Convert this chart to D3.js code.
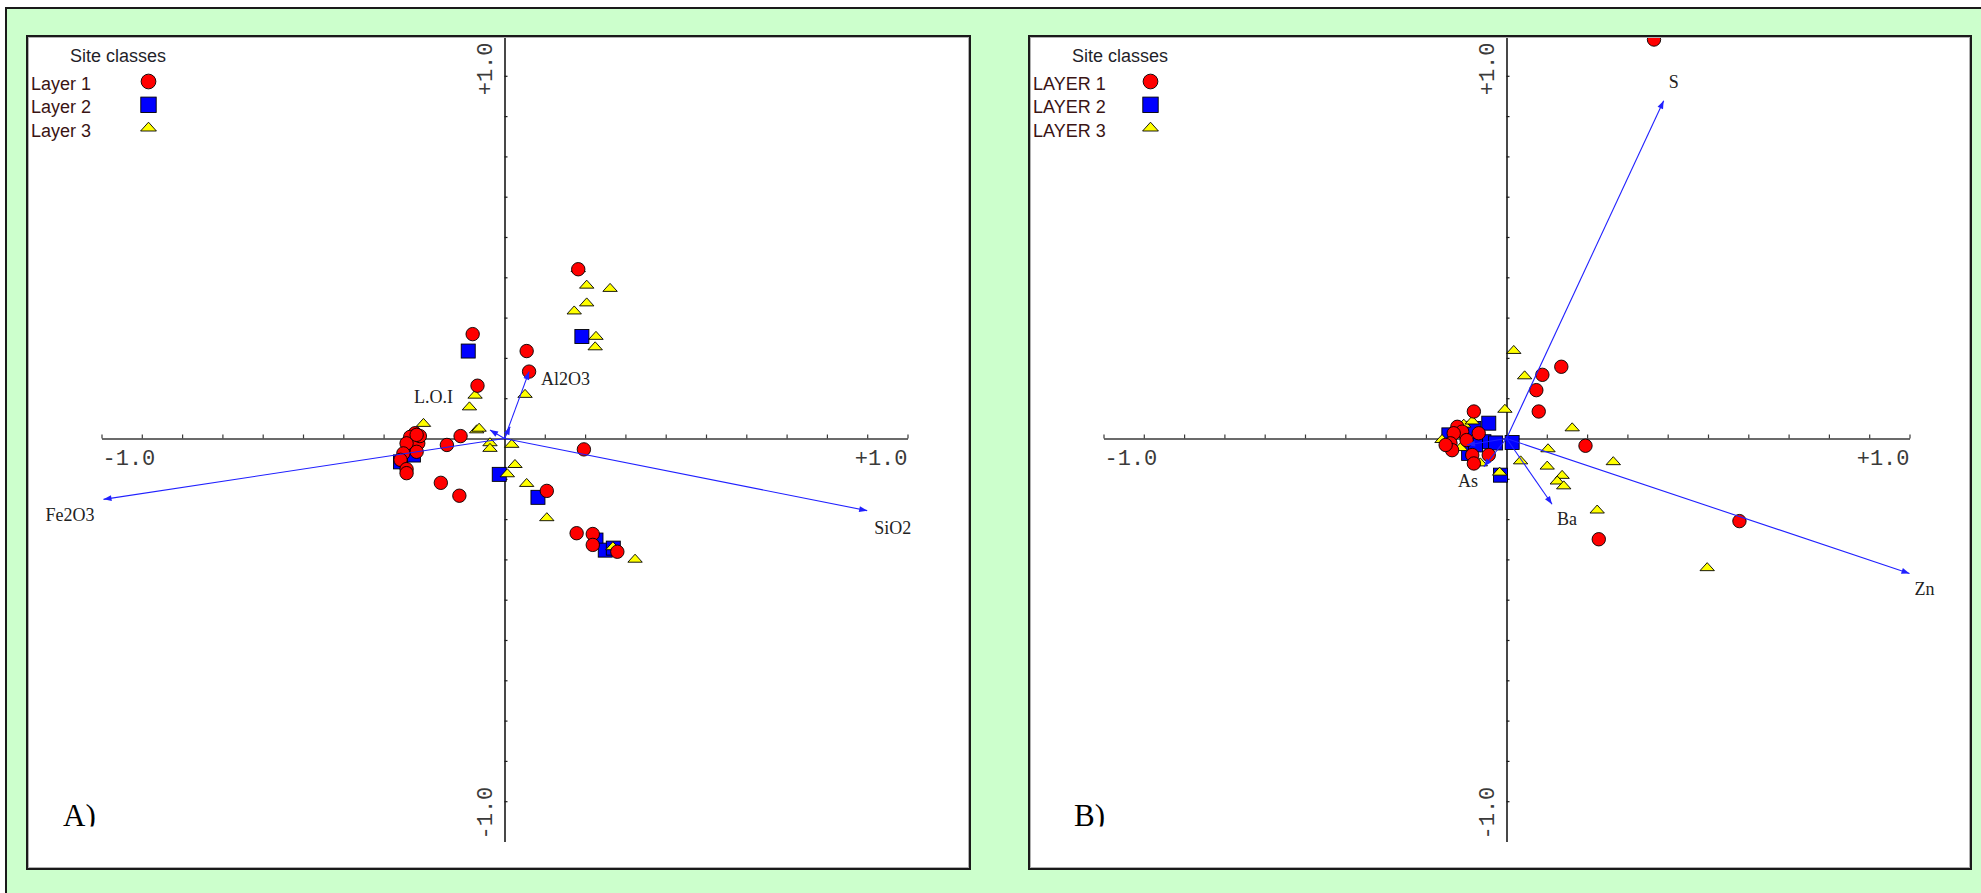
<!DOCTYPE html>
<html>
<head>
<meta charset="utf-8">
<script src="https://cdn.jsdelivr.net/npm/d3@7"></script>
<style>
  html, body { margin: 0; padding: 0; background: #ffffff; overflow: hidden; }
  svg { display: block; }
</style>
</head>
<body>
<svg id="fig" width="1981" height="893"></svg>
<script>
// ---------- text ----------
const legendTitle = "Site classes";
const classLabelsA = ["Layer 1", "Layer 2", "Layer 3"];
const classLabelsB = ["LAYER 1", "LAYER 2", "LAYER 3"];
const panelTags = ["A)", "B)"];
const xTickLabels = ["-1.0", "+1.0"];
const yTickLabels = ["-1.0", "+1.0"];

// ---------- panel A: major oxides, sample scores [axis 1, axis 2] ----------
const layer1A = [
  [0.183, 0.420], [-0.079, 0.259], [0.055, 0.217], [0.061, 0.166], [-0.067, 0.131],
  [-0.143, -0.016], [-0.109, 0.006], [-0.158, -0.110], [-0.112, -0.142], [0.197, -0.027],
  [0.105, -0.130], [0.179, -0.235], [0.219, -0.237], [0.219, -0.264], [0.280, -0.281],
  [-0.222, 0.013], [-0.234, 0.004], [-0.214, -0.012], [-0.243, -0.012], [-0.218, -0.033],
  [-0.251, -0.037], [-0.258, -0.053], [-0.243, -0.076], [-0.243, -0.086], [-0.210, 0.006],
  [-0.218, 0.009]
];
const layer2A = [
  [-0.090, 0.217], [0.192, 0.253], [-0.013, -0.089], [0.083, -0.146], [-0.226, -0.041],
  [-0.258, -0.058], [0.227, -0.252], [0.250, -0.277], [0.270, -0.272]
];
const layer3A = [
  [0.204, 0.383], [0.262, 0.375], [0.204, 0.339], [0.173, 0.319], [0.227, 0.256],
  [0.225, 0.230], [0.051, 0.112], [-0.073, 0.110], [-0.087, 0.081], [-0.201, 0.040],
  [-0.069, 0.024], [-0.063, 0.028], [-0.036, -0.008], [-0.036, -0.022], [0.018, -0.012],
  [0.026, -0.062], [0.007, -0.085], [0.055, -0.109], [0.105, -0.194], [0.324, -0.297],
  [0.183, 0.424], [0.269, -0.266]
];
const variableNamesA = ["Fe2O3", "SiO2", "Al2O3", "L.O.I", ""];
const variableX_A = [-0.995, 0.900, 0.061, -0.036, 0.014];
const variableY_A = [-0.151, -0.179, 0.166, 0.021, 0.029];

// ---------- panel B: trace elements, sample scores ----------
const layer1B = [
  [0.136, 0.178], [0.089, 0.158], [0.074, 0.120], [0.080, 0.067], [-0.081, 0.067],
  [0.196, -0.018], [0.229, -0.250], [0.578, -0.205], [0.366, 0.990],
  [-0.122, 0.029], [-0.110, 0.017], [-0.131, 0.013], [-0.139, -0.012], [-0.135, -0.029],
  [-0.069, 0.013], [-0.085, -0.041], [-0.081, -0.062], [-0.044, -0.041], [-0.099, -0.004],
  [-0.151, -0.016]
];
const layer2B = [
  [-0.044, 0.038], [-0.081, 0.025], [-0.143, 0.009], [-0.094, -0.037], [0.014, -0.010],
  [-0.015, -0.091], [-0.056, -0.008], [-0.027, -0.011], [-0.077, -0.016]
];
const layer3B = [
  [0.018, 0.221], [0.045, 0.158], [-0.004, 0.075], [0.163, 0.029], [0.103, -0.023],
  [0.265, -0.055], [0.035, -0.053], [0.101, -0.066], [0.138, -0.089], [0.126, -0.103],
  [0.142, -0.115], [0.225, -0.175], [0.498, -0.318], [-0.017, -0.081], [-0.106, 0.038],
  [-0.085, 0.046], [-0.114, -0.020], [-0.065, -0.058], [-0.160, 0.000]
];
const variableNamesB = ["S", "Zn", "Ba", "As", ""];
const variableX_B = [0.390, 1.000, 0.113, -0.056, -0.098];
const variableY_B = [0.838, -0.335, -0.163, -0.070, -0.016];

// ---------- layout & style ----------
const W = 1981, H = 893;
const GREEN = "#ccffcc";
const R = 403;              // pixels per unit along each axis
const ORIGIN_DX = 477.5;    // y-axis offset from panel left
const ORIGIN_Y = 438.5;
const panels = [
  { left: 27,   top: 36, right: 970,  bottom: 869, tagDx: 36,
    classes: classLabelsA, series: [layer1A, layer2A, layer3A],
    names: variableNamesA, vx: variableX_A, vy: variableY_A,
    labelPos: { "Fe2O3": [-9, 22, "end"], "SiO2": [7, 23, "start"],
                "Al2O3": [12, 13, "start"], "L.O.I": [-37, -27, "end"] } },
  { left: 1029, top: 36, right: 1971, bottom: 869, tagDx: 45,
    classes: classLabelsB, series: [layer1B, layer2B, layer3B],
    names: variableNamesB, vx: variableX_B, vy: variableY_B,
    labelPos: { "S": [5, -13, "start"], "Zn": [5, 21, "start"],
                "Ba": [5, 21, "start"], "As": [-26, 20, "start"] } }
];
const markerStyle = [
  { shape: "circle",   fill: "#ff0000" },
  { shape: "square",   fill: "#0000ff" },
  { shape: "triangle", fill: "#ffff00" }
];

const svg = d3.select("#fig");

// sheet background and frame
svg.append("rect").attr("x", 0).attr("y", 0).attr("width", W).attr("height", H).attr("fill", "#fff");
svg.append("rect").attr("x", 6).attr("y", 8).attr("width", W - 6).attr("height", H - 8).attr("fill", GREEN);
svg.append("path").attr("d", `M6,${H} V8 H${W}`).attr("fill", "none")
  .attr("stroke", "#1a1a1a").attr("stroke-width", 2);

function marker(g, shape, fill, cx, cy, big) {
  const s = big ? 1.1 : 1;
  if (shape === "circle") {
    g.append("circle").attr("cx", cx).attr("cy", cy).attr("r", 6.7 * s)
      .attr("fill", fill).attr("stroke", "#000").attr("stroke-width", 0.9);
  } else if (shape === "square") {
    const a = 14 * s;
    g.append("rect").attr("x", cx - a / 2).attr("y", cy - a / 2).attr("width", a).attr("height", a)
      .attr("fill", fill).attr("stroke", "#000").attr("stroke-width", 0.9);
  } else {
    const hw = 7.2 * s, h = 8 * s;
    g.append("path")
      .attr("d", `M${cx - hw},${cy + h / 2} L${cx},${cy - h / 2} L${cx + hw},${cy + h / 2} Z`)
      .attr("fill", fill).attr("stroke", "#000").attr("stroke-width", 0.9);
  }
}

panels.forEach((p, pi) => {
  const ox = p.left + ORIGIN_DX, oy = ORIGIN_Y;
  const x = d3.scaleLinear().domain([-1, 1]).range([ox - R, ox + R]);
  const y = d3.scaleLinear().domain([-1, 1]).range([oy + R, oy - R]);
  const pw = p.right - p.left, ph = p.bottom - p.top;

  const g = svg.append("g");
  const clipId = "clip" + pi;
  svg.append("clipPath").attr("id", clipId).append("rect")
    .attr("x", p.left).attr("y", p.top).attr("width", pw).attr("height", ph);

  // panel
  g.append("rect").attr("x", p.left).attr("y", p.top).attr("width", pw).attr("height", ph)
    .attr("fill", "#fff");

  // axes through the origin
  const xAxis = d3.axisTop(x)
    .tickValues(d3.range(-10, 11).filter(i => i !== 0).map(i => i / 10))
    .tickSize(4).tickSizeOuter(0).tickFormat("");
  const gx = g.append("g").attr("transform", `translate(0,${oy})`).call(xAxis);
  gx.select(".domain").attr("stroke", "#3a3a3a").attr("stroke-width", 1.6);
  gx.selectAll(".tick line").attr("stroke", "#3a3a3a").attr("stroke-width", 1.2);

  const yAxis = d3.axisRight(y)
    .tickValues(d3.range(-9, 10).filter(i => i !== 0).map(i => i / 10))
    .tickSize(3).tickSizeOuter(0).tickFormat("");
  const gy = g.append("g").attr("transform", `translate(${ox},0)`).call(yAxis);
  gy.select(".domain").attr("stroke", "#1a1a1a").attr("stroke-width", 1.6);
  gy.selectAll(".tick line").attr("stroke", "#1a1a1a").attr("stroke-width", 1.2);

  // axis end labels
  const tickFont = "'Liberation Mono', 'DejaVu Sans Mono', monospace";
  g.append("text").attr("x", x(-1) + 1).attr("y", oy + 26).attr("text-anchor", "start")
    .attr("font-family", tickFont).attr("font-size", 22).attr("fill", "#3a3a3a").text(xTickLabels[0]);
  g.append("text").attr("x", x(1)).attr("y", oy + 26).attr("text-anchor", "end")
    .attr("font-family", tickFont).attr("font-size", 22).attr("fill", "#3a3a3a").text(xTickLabels[1]);
  g.append("text").attr("transform", `translate(${ox - 13},${y(1) + 7}) rotate(-90)`)
    .attr("text-anchor", "end")
    .attr("font-family", tickFont).attr("font-size", 22).attr("fill", "#3a3a3a").text(yTickLabels[1]);
  g.append("text").attr("transform", `translate(${ox - 13},${y(-1) - 2}) rotate(-90)`)
    .attr("text-anchor", "start")
    .attr("font-family", tickFont).attr("font-size", 22).attr("fill", "#3a3a3a").text(yTickLabels[0]);

  // sample points
  const pts = g.append("g").attr("clip-path", `url(#${clipId})`);
  [1, 2, 0].forEach(si => {
    p.series[si].forEach(d => marker(pts, markerStyle[si].shape, markerStyle[si].fill, x(d[0]), y(d[1]), false));
  });

  // variable arrows
  const arrows = g.append("g");
  p.names.forEach((name, i) => {
    const x1 = x(p.vx[i]), y1 = y(p.vy[i]);
    const ang = Math.atan2(y1 - oy, x1 - ox);
    const L = 8, Wd = 3;
    arrows.append("line").attr("x1", ox).attr("y1", oy).attr("x2", x1).attr("y2", y1)
      .attr("stroke", "#2020ff").attr("stroke-width", 1.1);
    const bx = x1 - L * Math.cos(ang), by = y1 - L * Math.sin(ang);
    const px = -Math.sin(ang) * Wd, py = Math.cos(ang) * Wd;
    arrows.append("path")
      .attr("d", `M${x1},${y1} L${bx + px},${by + py} L${bx - px},${by - py} Z`)
      .attr("fill", "#2020ff");
    if (name) {
      const lp = p.labelPos[name];
      arrows.append("text").attr("x", x1 + lp[0]).attr("y", y1 + lp[1])
        .attr("text-anchor", lp[2])
        .attr("font-family", "'Liberation Serif', 'Times New Roman', serif")
        .attr("font-size", 18).attr("fill", "#222").text(name);
    }
  });

  // legend
  const lg = g.append("g");
  lg.append("text").attr("x", p.left + 43).attr("y", 61.5)
    .attr("font-family", "'Liberation Sans', Arial, sans-serif").attr("font-size", 18)
    .attr("fill", "#1f1f2a").text(legendTitle);
  p.classes.forEach((c, i) => {
    const by = 90 + i * 23.3;
    lg.append("text").attr("x", p.left + 4).attr("y", by)
      .attr("font-family", "'Liberation Sans', Arial, sans-serif").attr("font-size", 18)
      .attr("fill", "#3a1414").text(c);
    const my = i === 2 ? by - 10 : by - 8.5;
    marker(lg, markerStyle[i].shape, markerStyle[i].fill, p.left + 121.5, my, true);
  });

  // panel tag, its lower edge trimmed at the baseline
  const tagClip = "tagclip" + pi;
  svg.append("clipPath").attr("id", tagClip).append("rect")
    .attr("x", p.left).attr("y", 780).attr("width", 120).attr("height", 46.5);
  g.append("text").attr("x", p.left + p.tagDx).attr("y", 826)
    .attr("clip-path", `url(#${tagClip})`)
    .attr("font-family", "'Liberation Serif', 'Times New Roman', serif").attr("font-size", 31)
    .attr("fill", "#000").text(panelTags[pi]);

  // panel border
  g.append("rect").attr("x", p.left + 1.5).attr("y", p.top + 1.5).attr("width", pw - 3).attr("height", ph - 3)
    .attr("fill", "none").attr("stroke", "#b0b0b0").attr("stroke-width", 1);
  g.append("rect").attr("x", p.left).attr("y", p.top).attr("width", pw).attr("height", ph)
    .attr("fill", "none").attr("stroke", "#1a1a1a").attr("stroke-width", 2);
});
</script>
</body>
</html>
